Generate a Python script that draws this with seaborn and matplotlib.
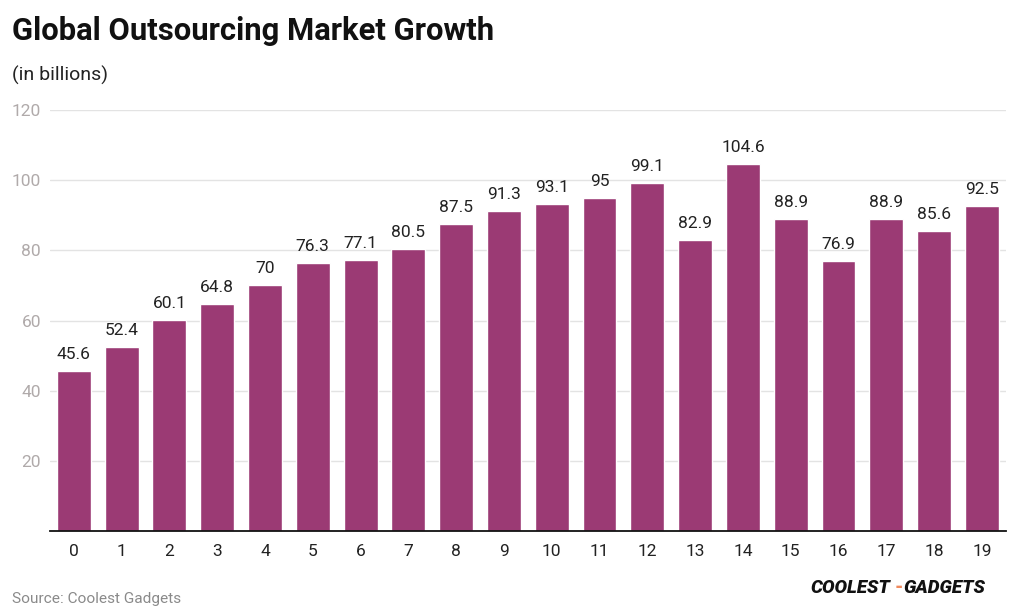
import matplotlib
matplotlib.use("Agg")
import matplotlib.pyplot as plt
import seaborn as sns
import pandas as pd

# data
years = list(range(20))
values = [45.6, 52.4, 60.1, 64.8, 70, 76.3, 77.1, 80.5, 87.5, 91.3,
          93.1, 95, 99.1, 82.9, 104.6, 88.9, 76.9, 88.9, 85.6, 92.5]
value_labels = ["45.6", "52.4", "60.1", "64.8", "70", "76.3", "77.1", "80.5", "87.5", "91.3",
                "93.1", "95", "99.1", "82.9", "104.6", "88.9", "76.9", "88.9", "85.6", "92.5"]
y_ticks = [20, 40, 60, 80, 100, 120]

df = pd.DataFrame({"year": years, "value": values})

sns.set_theme(style="white")
plt.rcParams["font.family"] = ["Roboto", "DejaVu Sans"]

fig = plt.figure(figsize=(10.2, 6.14), dpi=100)
ax = fig.add_axes([0.049, 0.135, 0.937, 0.686])

sns.barplot(data=df, x="year", y="value", color="#9B3A74", saturation=1,
            width=0.71, ax=ax, order=years)

ax.bar_label(ax.containers[0], labels=value_labels, padding=6.5,
             fontsize=12.5, color="#222222")

ax.set_ylim(0, 120)
ax.set_xlim(-0.5, 19.5)
ax.set_yticks(y_ticks)
ax.set_yticklabels([str(t) for t in y_ticks])
ax.yaxis.grid(True, color="#e3e3e3", linewidth=1)
ax.set_axisbelow(True)
ax.set_xlabel("")
ax.set_ylabel("")

for side in ["top", "right", "left"]:
    ax.spines[side].set_visible(False)
ax.spines["bottom"].set_color("#111111")
ax.spines["bottom"].set_linewidth(1.3)

ax.tick_params(axis="y", length=0, labelsize=12.5, labelcolor="#b0aaaa", pad=6.5)
ax.tick_params(axis="x", length=0, labelsize=12.5, labelcolor="#222222", pad=9)

fig.text(0.012, 0.95, "Global Outsourcing Market Growth", fontsize=22.3,
         fontweight="bold", color="#111111", va="center", ha="left")
fig.text(0.012, 0.878, "(in billions)", fontsize=14, color="#222222",
         va="center", ha="left")
fig.text(0.012, 0.025, "Source: Coolest Gadgets", fontsize=11.1,
         color="#8a8a8a", va="center", ha="left")

# logo approximation
fig.text(0.873, 0.043, "COOLEST", fontsize=13.5, fontweight="heavy", style="italic",
         color="#111111", va="center", ha="right")
fig.text(0.877, 0.043, "-", fontsize=13.5, fontweight="heavy", color="#F08A5D",
         va="center", ha="left")
fig.text(0.886, 0.043, "GADGETS", fontsize=13.5, fontweight="heavy", style="italic",
         color="#111111", va="center", ha="left")

fig.savefig("out.png", dpi=100, facecolor="white")
